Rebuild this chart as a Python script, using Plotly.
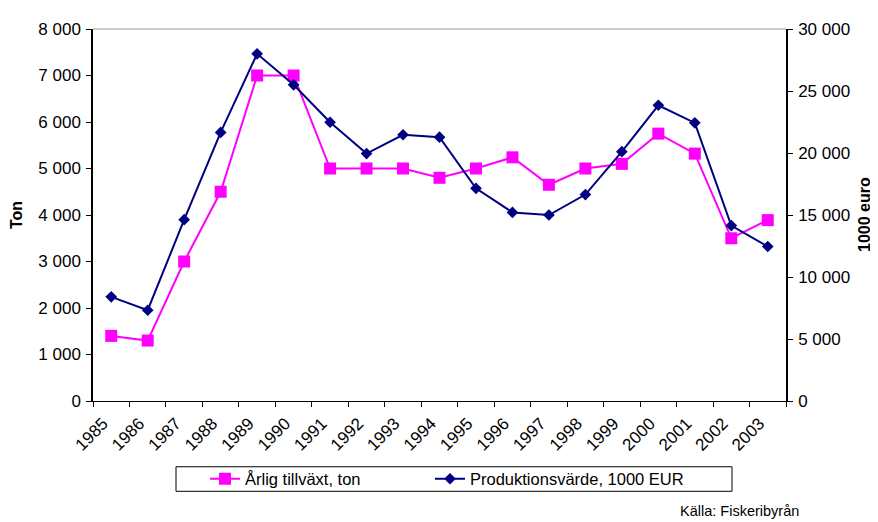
import numpy as np
import plotly.graph_objects as go

years = ["1985", "1986", "1987", "1988", "1989", "1990", "1991", "1992", "1993", "1994",
         "1995", "1996", "1997", "1998", "1999", "2000", "2001", "2002", "2003"]
tillvaxt_ton = [1400, 1300, 3000, 4500, 7000, 7000, 5000, 5000, 5000, 4800,
                5000, 5240, 4650, 5000, 5100, 5750, 5320, 3500, 3890]
produktionsvarde = [8400, 7320, 14620, 21660, 28000, 25500, 22480, 19950, 21470, 21280,
                    17150, 15210, 15000, 16650, 20110, 23850, 22430, 14150, 12460]
left_ticks = [0, 1000, 2000, 3000, 4000, 5000, 6000, 7000, 8000]
left_ticktext = ["0", "1 000", "2 000", "3 000", "4 000", "5 000", "6 000", "7 000", "8 000"]
right_ticks = [0, 5000, 10000, 15000, 20000, 25000, 30000]
right_ticktext = ["0", "5 000", "10 000", "15 000", "20 000", "25 000", "30 000"]

FONT = "Liberation Sans, Arial, sans-serif"
n = len(years)
xpos = np.arange(n) + 0.5
bounds = list(range(n + 1))
xlabels = years + [""]

# plot area in page pixels (reference): left 93, right 786, top 22, bottom 401
PL, PR, PT, PB = 93, 786, 22, 401
PW, PH = PR - PL, PB - PT


def px(x):
    return (x - PL) / PW


def py(y):
    return (PB - y) / PH


fig = go.Figure()
fig.add_trace(go.Scatter(
    x=xpos, y=tillvaxt_ton, name="Årlig tillväxt, ton", mode="lines+markers",
    line=dict(color="#FF00FF", width=2),
    marker=dict(symbol="square", size=12, color="#FF00FF"),
    xaxis="x", yaxis="y", legend="legend"))
fig.add_trace(go.Scatter(
    x=xpos, y=produktionsvarde, name="Produktionsvärde, 1000 EUR", mode="lines+markers",
    line=dict(color="#000080", width=2),
    marker=dict(symbol="diamond", size=9, color="#000080"),
    xaxis="x", yaxis="y2", legend="legend2"))

tickfont = dict(family=FONT, size=17, color="black")
legfont = dict(family=FONT, size=16.5, color="black")
# the page body has an 8px margin, so the figure is 8px smaller and margins shifted
fig.update_layout(
    width=870, height=514,
    margin=dict(l=PL - 8, r=870 + 8 - PR, t=PT - 8, b=514 + 8 - PB),
    paper_bgcolor="white", plot_bgcolor="white",
    font=dict(family=FONT, color="black"),
    showlegend=True,
    xaxis=dict(range=[0, n], tickmode="array", tickvals=bounds, ticktext=xlabels,
               tickangle=-45, ticks="outside", ticklen=5, tickcolor="black", tickwidth=1,
               showline=True, linecolor="black", linewidth=1, showgrid=False, zeroline=False,
               tickfont=tickfont, ticklabelshift=10, fixedrange=True),
    yaxis=dict(range=[0, 8000], tickmode="array", tickvals=left_ticks, ticktext=left_ticktext,
               ticks="outside", ticklen=5, tickcolor="black", showline=True, linecolor="black",
               linewidth=1.5, showgrid=False, zeroline=False, tickfont=tickfont,
               ticklabelstandoff=2),
    yaxis2=dict(range=[0, 30000], tickmode="array", tickvals=right_ticks, ticktext=right_ticktext,
                overlaying="y", side="right", anchor="x", ticks="outside", ticklen=5,
                tickcolor="black", showline=True, linecolor="black", linewidth=1.5,
                showgrid=False, zeroline=False, tickfont=tickfont, ticklabelstandoff=2),
    xaxis2=dict(range=[0, n], overlaying="x", anchor="y", tickmode="array", tickvals=bounds,
                ticks="inside", ticklen=6, tickcolor="black", showticklabels=False,
                showline=False, showgrid=False, zeroline=False),
    yaxis3=dict(range=[0, 8000], overlaying="y", side="left", anchor="x", tickmode="array",
                tickvals=left_ticks, ticks="inside", ticklen=5, tickcolor="black",
                showticklabels=False, showline=False, showgrid=False, zeroline=False),
    yaxis4=dict(range=[0, 30000], overlaying="y", side="right", anchor="x", tickmode="array",
                tickvals=right_ticks, ticks="inside", ticklen=5, tickcolor="black",
                showticklabels=False, showline=False, showgrid=False, zeroline=False),
    legend=dict(orientation="h", x=px(205), xanchor="left", y=py(480.5), yanchor="middle",
                font=legfont, bgcolor="rgba(0,0,0,0)", borderwidth=0, itemwidth=30),
    legend2=dict(orientation="h", x=px(430), xanchor="left", y=py(480.5), yanchor="middle",
                 font=legfont, bgcolor="rgba(0,0,0,0)", borderwidth=0, itemwidth=30),
)

# plot-area top border and legend frame
fig.add_shape(type="line", xref="paper", yref="paper", x0=0, x1=1, y0=1, y1=1,
              line=dict(color="#999999", width=1))
fig.add_shape(type="rect", xref="paper", yref="paper",
              x0=px(176), x1=px(732), y0=py(493), y1=py(468),
              line=dict(color="black", width=1), fillcolor="rgba(0,0,0,0)", layer="below")

fig.add_annotation(text="<b>Ton</b>", xref="paper", yref="paper", x=px(16), xanchor="center",
                   y=0.5, yanchor="middle", textangle=-90, showarrow=False,
                   font=dict(family=FONT, size=16, color="black"))
fig.add_annotation(text="<b>1000 euro</b>", xref="paper", yref="paper", x=px(864), xanchor="center",
                   y=0.5, yanchor="middle", textangle=-90, showarrow=False,
                   font=dict(family=FONT, size=16, color="black"))
fig.add_annotation(text="Källa: Fiskeribyrån", xref="paper", yref="paper",
                   x=px(801), xanchor="right", y=py(513), yanchor="middle",
                   showarrow=False, font=dict(family=FONT, size=14.5, color="black"))

fig.write_html("out.html")
